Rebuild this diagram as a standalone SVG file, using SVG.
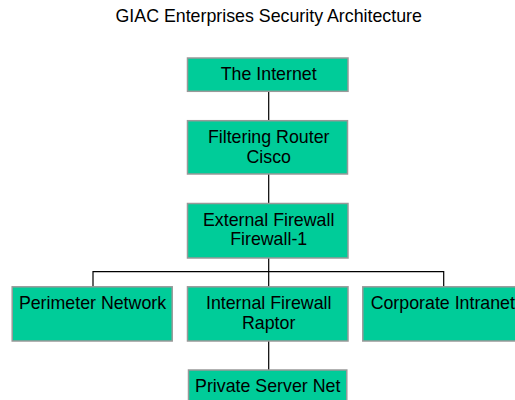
<svg xmlns="http://www.w3.org/2000/svg" width="515" height="400" viewBox="0 0 515 400">
<style>
.box{fill:#00CC99;stroke:#999999;stroke-width:1.5}
.t{font-family:"Liberation Sans",Arial,sans-serif;font-size:17.8px;fill:#000;text-anchor:middle}
.c{stroke:#000;stroke-width:1.2;fill:none}
</style>
<rect width="515" height="400" fill="#fff"/>
<text class="t" x="268.7" y="21.7">GIAC Enterprises Security Architecture</text>
<g id="connectors">
<line class="c" x1="268.7" y1="91" x2="268.7" y2="121"/>
<line class="c" x1="268.7" y1="174" x2="268.7" y2="203.5"/>
<line class="c" x1="268.7" y1="258" x2="268.7" y2="287"/>
<polyline class="c" points="93,287 93,271.7 443.7,271.7 443.7,287"/>
<line class="c" x1="268.7" y1="341" x2="268.7" y2="370"/>
</g>
<g id="internet">
<rect class="box" x="187.5" y="58" width="160.5" height="33.3"/>
<text class="t" x="268.7" y="80">The Internet</text>
</g>
<g id="router">
<rect class="box" x="187.5" y="120.7" width="160" height="53.3"/>
<text class="t" x="268.7" y="143.3">Filtering Router</text>
<text class="t" x="268.7" y="162.8">Cisco</text>
</g>
<g id="extfw">
<rect class="box" x="187.5" y="203.5" width="160.5" height="54.5"/>
<text class="t" x="268.7" y="226">External Firewall</text>
<text class="t" x="268.7" y="245.4">Firewall-1</text>
</g>
<g id="perimeter">
<rect class="box" x="12.2" y="286.8" width="160" height="54.2"/>
<text class="t" x="92.5" y="309.3">Perimeter Network</text>
</g>
<g id="intfw">
<rect class="box" x="187.5" y="286.8" width="160.5" height="54.2"/>
<text class="t" x="268.7" y="309.3">Internal Firewall</text>
<text class="t" x="268.7" y="328.7">Raptor</text>
</g>
<g id="corporate">
<rect class="box" x="362.8" y="286.8" width="160" height="54.2"/>
<text class="t" x="442.8" y="309.3">Corporate Intranet</text>
</g>
<g id="private">
<rect class="box" x="188.5" y="370" width="158.3" height="40"/>
<text class="t" x="267.7" y="391.7">Private Server Net</text>
</g>
</svg>
